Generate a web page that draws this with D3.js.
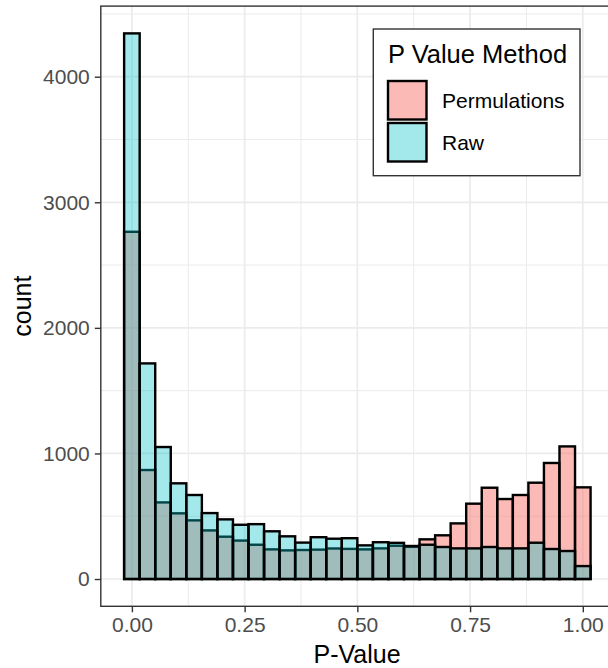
<!DOCTYPE html>
<html>
<head>
<meta charset="utf-8">
<script src="https://cdn.jsdelivr.net/npm/d3@7"></script>
<style>
  html, body { margin: 0; padding: 0; background: #ffffff; }
  svg { display: block; font-family: "Liberation Sans", Arial, Helvetica, sans-serif; }
</style>
</head>
<body>
<svg id="chart" width="608" height="668"></svg>
<script>
// histogram counts per bin, 30 bins over [0, 1]
const raw_counts = [4345, 1717, 1051, 762, 669, 525, 475, 432, 437, 380,
                    340, 290, 333, 321, 325, 268, 293, 288, 263, 273,
                    255, 244, 244, 255, 244, 244, 289, 239, 223, 103];
const perm_counts = [2765, 868, 610, 523, 467, 387, 337, 306, 273, 236,
                     228, 231, 234, 243, 240, 236, 244, 265, 256, 316,
                     348, 443, 600, 727, 637, 669, 767, 924, 1056, 730];
const series_names = ['Permulations', 'Raw'];
const x_ticks = [0, 0.25, 0.5, 0.75, 1];
const x_minor = [0.125, 0.375, 0.625, 0.875];
const y_ticks = [0, 1000, 2000, 3000, 4000];
const y_minor = [500, 1500, 2500, 3500, 4500];

const fill_color = {'Permulations': '#F8766D', 'Raw': '#00BFC4'};
const fill_alpha = {'Permulations': 0.5, 'Raw': 0.36};

let svg = d3.select('#chart');
let n_bins = raw_counts.length;
let bin_width = 1 / (n_bins - 1);

// ggplot style 5% expansion
let x_lo = -bin_width / 2, x_hi = 1 + bin_width / 2;
let x_pad = (x_hi - x_lo) * 0.05;
let x = d3.scaleLinear().domain([x_lo - x_pad, x_hi + x_pad]).range([100.8, 613.9]);

let y_max = d3.max(raw_counts.concat(perm_counts));
let y_pad = y_max * 0.05;
let y = d3.scaleLinear().domain([-y_pad, y_max + y_pad]).range([606.3, 6.1]);

let panel = {x0: x.range()[0], x1: x.range()[1], y0: y.range()[1], y1: y.range()[0]};

// grid
let grid = svg.append('g').attr('class', 'grid');
grid.selectAll('.x_minor').data(x_minor).enter().append('line')
  .attr('x1', d => x(d)).attr('x2', d => x(d))
  .attr('y1', panel.y0).attr('y2', panel.y1)
  .attr('stroke', '#EBEBEB').attr('stroke-width', 1);
grid.selectAll('.y_minor').data(y_minor).enter().append('line')
  .attr('y1', d => y(d)).attr('y2', d => y(d))
  .attr('x1', panel.x0).attr('x2', panel.x1)
  .attr('stroke', '#EBEBEB').attr('stroke-width', 1);
grid.selectAll('.x_major').data(x_ticks).enter().append('line')
  .attr('x1', d => x(d)).attr('x2', d => x(d))
  .attr('y1', panel.y0).attr('y2', panel.y1)
  .attr('stroke', '#EBEBEB').attr('stroke-width', 1.7);
grid.selectAll('.y_major').data(y_ticks).enter().append('line')
  .attr('y1', d => y(d)).attr('y2', d => y(d))
  .attr('x1', panel.x0).attr('x2', panel.x1)
  .attr('stroke', '#EBEBEB').attr('stroke-width', 1.7);

// bars, permulations first then raw on top
let bars_data = [
  {name: 'Permulations', counts: perm_counts},
  {name: 'Raw', counts: raw_counts}
];
let bar_container = svg.append('g').attr('class', 'bars');
bars_data.forEach(function(s){
  bar_container.append('g').attr('class', 'series')
    .selectAll('rect').data(s.counts).enter().append('rect')
    .attr('x', (d, i) => x(i * bin_width - bin_width / 2))
    .attr('width', (d, i) => x(i * bin_width + bin_width / 2) - x(i * bin_width - bin_width / 2))
    .attr('y', d => y(d))
    .attr('height', d => y(0) - y(d))
    .attr('fill', fill_color[s.name])
    .attr('fill-opacity', fill_alpha[s.name])
    .attr('stroke', '#000000')
    .attr('stroke-width', 2.4);
});

// panel border
svg.append('rect')
  .attr('x', panel.x0).attr('y', panel.y0)
  .attr('width', panel.x1 - panel.x0).attr('height', panel.y1 - panel.y0)
  .attr('fill', 'none').attr('stroke', '#333333').attr('stroke-width', 1.4);

// axes
let x_axis = d3.axisBottom(x).tickValues(x_ticks).tickFormat(d3.format('.2f')).tickSize(6).tickPadding(5);
let gx = svg.append('g').attr('transform', 'translate(0,' + panel.y1 + ')').call(x_axis);
gx.select('.domain').remove();
gx.selectAll('line').attr('stroke', '#333333').attr('stroke-width', 1.4);
gx.selectAll('text').attr('fill', '#4D4D4D').attr('font-size', 21)
  .attr('font-family', '"Liberation Sans", Arial, sans-serif');

let y_axis = d3.axisLeft(y).tickValues(y_ticks).tickFormat(d3.format('d')).tickSize(6).tickPadding(5);
let gy = svg.append('g').attr('transform', 'translate(' + panel.x0 + ',0)').call(y_axis);
gy.select('.domain').remove();
gy.selectAll('line').attr('stroke', '#333333').attr('stroke-width', 1.4);
gy.selectAll('text').attr('fill', '#4D4D4D').attr('font-size', 21)
  .attr('font-family', '"Liberation Sans", Arial, sans-serif');

// axis titles
svg.append('text').attr('x', 357).attr('y', 663)
  .attr('text-anchor', 'middle').attr('font-size', 25).attr('fill', '#000')
  .text('P-Value');
svg.append('text').attr('transform', 'translate(31,' + ((panel.y0 + panel.y1) / 2) + ') rotate(-90)')
  .attr('text-anchor', 'middle').attr('font-size', 25).attr('fill', '#000')
  .text('count');

// legend
let legend = svg.append('g').attr('class', 'legend');
legend.append('rect').attr('x', 373.3).attr('y', 29).attr('width', 206.7).attr('height', 146.7)
  .attr('fill', '#ffffff').attr('stroke', '#333333').attr('stroke-width', 1.4);
legend.append('text').attr('x', 388).attr('y', 63).attr('font-size', 25.5).attr('fill', '#000')
  .text('P Value Method');
let key = legend.selectAll('.key').data(series_names).enter().append('g')
  .attr('class', 'key')
  .attr('transform', (d, i) => 'translate(388,' + (81 + i * 42) + ')');
key.append('rect').attr('width', 38.5).attr('height', 38.5)
  .attr('fill', d => fill_color[d]).attr('fill-opacity', d => fill_alpha[d])
  .attr('stroke', '#000000').attr('stroke-width', 2.4);
key.append('text').attr('x', 54).attr('y', 27).attr('font-size', 21).attr('fill', '#000')
  .text(d => d);
</script>
</body>
</html>
